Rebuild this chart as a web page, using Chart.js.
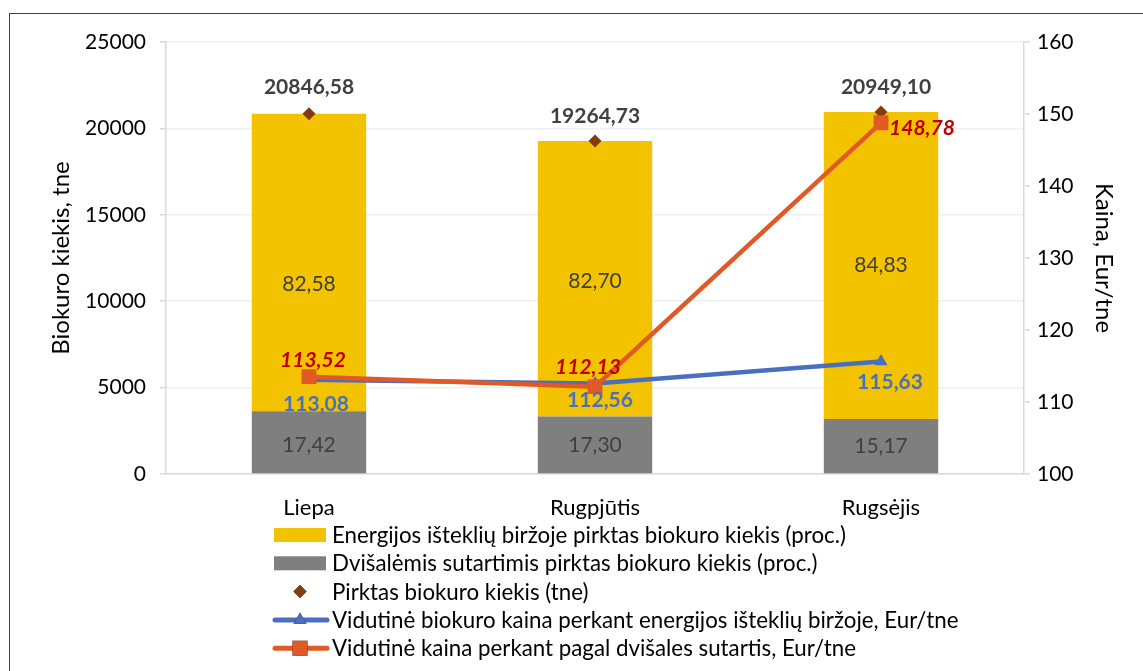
<!DOCTYPE html>
<html>
<head>
<meta charset="utf-8">
<script src="https://cdn.jsdelivr.net/npm/chart.js@4.4.1/dist/chart.umd.min.js"></script>
<style>
  html, body { margin: 0; padding: 0; background: #fff; overflow: hidden; }
  #wrap { position: relative; width: 1143px; height: 671px; }
  #frame { position: absolute; left: 9px; top: 13px; width: 1300px; height: 800px; border: 1.5px solid #404040; }
  canvas { position: absolute; left: 0; top: 0; }
</style>
</head>
<body>
<div id="wrap">
  <div id="frame"></div>
  <canvas id="grafikas" width="1143" height="671"></canvas>
</div>
<script>
// Duomenys
const menesiai = ['Liepa', 'Rugpjūtis', 'Rugsėjis'];
const pirktaViso = [20846.58, 19264.73, 20949.10];      // tne
const birzojeProc = [82.58, 82.70, 84.83];              // proc.
const dvisalemisProc = [17.42, 17.30, 15.17];           // proc.
const kainaBirzoje = [113.08, 112.56, 115.63];          // Eur/tne
const kainaDvisale = [113.52, 112.13, 148.78];          // Eur/tne

const SRIFTAS = 'Lato, "Liberation Sans", sans-serif';
const fmt = v => v.toFixed(2).replace('.', ',');

// stulpeliu aukstis = bendras kiekis * dalis
const birzojeTne = pirktaViso.map((v, i) => v * birzojeProc[i] / 100);
const dvisalemisTne = pirktaViso.map((v, i) => v * dvisalemisProc[i] / 100);

// Reiksmiu uzrasai
const zymes = {
    id: 'zymes',
    afterDatasetsDraw(chart) {
        const ctx = chart.ctx;
        ctx.save();
        ctx.textAlign = 'center';
        ctx.textBaseline = 'middle';
        chart.data.datasets.forEach((ds, i) => {
            const z = ds.zyme;
            if (!z) return;
            const meta = chart.getDatasetMeta(i);
            meta.data.forEach((el, j) => {
                let x = el.x + (z.dx ? z.dx[j] : 0);
                let y = (meta.type === 'bar' ? (el.y + el.base) / 2 : el.y) + (z.dy ? z.dy[j] : 0);
                ctx.font = z.font;
                ctx.fillStyle = z.spalva;
                ctx.fillText(fmt(z.tekstai[j]), x, y);
            });
        });
        ctx.restore();
    }
};

// Legenda po grafiku, viena eilute kiekvienam elementui
const legenda = {
    id: 'legenda',
    afterDraw(chart) {
        const ctx = chart.ctx;
        const tvarka = [1, 0, 2, 3, 4];
        const x0 = 274, y0 = 535, zingsnis = 28.3;
        ctx.save();
        ctx.font = '22.3px ' + SRIFTAS;
        ctx.textBaseline = 'middle';
        ctx.textAlign = 'left';
        tvarka.forEach((idx, r) => {
            const ds = chart.data.datasets[idx];
            const y = y0 + r * zingsnis;
            if (ds.type === 'bar') {
                ctx.fillStyle = ds.backgroundColor;
                ctx.fillRect(x0, y - 7, 52, 14);
            } else {
                if (ds.showLine !== false) {
                    ctx.strokeStyle = ds.borderColor;
                    ctx.lineWidth = 5;
                    ctx.lineCap = 'round';
                    ctx.beginPath();
                    ctx.moveTo(x0 + 1, y);
                    ctx.lineTo(x0 + 53, y);
                    ctx.stroke();
                }
                Chart.helpers.drawPoint(ctx, {
                    pointStyle: ds.pointStyle,
                    radius: ds.pointRadius,
                    borderWidth: 0,
                    rotation: 0
                }, x0 + 26, y);
                ctx.fillStyle = ds.pointBackgroundColor;
                ctx.fill();
            }
            ctx.fillStyle = '#000';
            ctx.fillText(ds.label, x0 + 58, y + 1);
        });
        ctx.restore();
    }
};

new Chart(document.getElementById('grafikas'), {
    data: {
        labels: menesiai,
        datasets: [
            {
                type: 'bar',
                label: 'Dvišalėmis sutartimis pirktas biokuro kiekis (proc.)',
                data: dvisalemisTne,
                backgroundColor: '#7F7F7F',
                yAxisID: 'y',
                stack: 'kiekis',
                order: 3,
                zyme: { tekstai: dvisalemisProc, spalva: '#404040', font: '21px ' + SRIFTAS, dy: [3, 0, 0] }
            },
            {
                type: 'bar',
                label: 'Energijos išteklių biržoje pirktas biokuro kiekis (proc.)',
                data: birzojeTne,
                backgroundColor: '#F4C300',
                yAxisID: 'y',
                stack: 'kiekis',
                order: 3,
                zyme: { tekstai: birzojeProc, spalva: '#404040', font: '21px ' + SRIFTAS, dy: [22, 2, 0] }
            },
            {
                type: 'line',
                label: 'Pirktas biokuro kiekis (tne)',
                data: pirktaViso,
                showLine: false,
                pointStyle: 'rectRot',
                pointRadius: 6.5,
                pointBackgroundColor: '#843C0C',
                pointBorderWidth: 0,
                borderColor: '#843C0C',
                yAxisID: 'y',
                stack: 'taskai',
                order: 2,
                zyme: { tekstai: pirktaViso, spalva: '#404040', font: 'bold 21px ' + SRIFTAS, dx: [0, 0, 5], dy: [-27, -25, -25] }
            },
            {
                type: 'line',
                label: 'Vidutinė biokuro kaina perkant energijos išteklių biržoje, Eur/tne',
                data: kainaBirzoje,
                borderColor: '#4A6FBF',
                borderWidth: 4.5,
                pointStyle: 'triangle',
                pointRadius: 7.5,
                pointBackgroundColor: '#4A6FBF',
                pointBorderWidth: 0,
                yAxisID: 'y1',
                order: 1,
                zyme: { tekstai: kainaBirzoje, spalva: '#4A6FBF', font: 'bold 21px ' + SRIFTAS, dx: [7, 5, 9], dy: [24, 17, 21] }
            },
            {
                type: 'line',
                label: 'Vidutinė kaina perkant pagal dvišales sutartis, Eur/tne',
                data: kainaDvisale,
                borderColor: '#E15A26',
                borderWidth: 4.5,
                pointStyle: 'rect',
                pointRadius: 10.5,
                pointBackgroundColor: '#E15A26',
                pointBorderWidth: 0,
                yAxisID: 'y1',
                order: 0,
                zyme: { tekstai: kainaDvisale, spalva: '#C00000', font: 'italic bold 21px ' + SRIFTAS, dx: [4, -7, 41], dy: [-16, -19, 5] }
            }
        ]
    },
    options: {
        responsive: false,
        animation: false,
        layout: { padding: { left: 40, right: 18, top: 42, bottom: 137 } },
        datasets: { bar: { barPercentage: 0.4, categoryPercentage: 1 } },
        plugins: {
            legend: { display: false },
            tooltip: { enabled: false }
        },
        scales: {
            x: {
                stacked: true,
                grid: { display: false, drawTicks: false },
                border: { display: true, color: '#D9D9D9', width: 1.5 },
                ticks: { color: '#000', font: { family: SRIFTAS, size: 22 }, padding: 21 },
                afterFit(s) { s.height = 60; }
            },
            y: {
                position: 'left',
                stacked: true,
                min: 0,
                max: 25000,
                ticks: { stepSize: 5000, color: '#000', font: { family: SRIFTAS, size: 21 }, padding: 14, callback: v => String(v) },
                grid: { color: '#EFEFEF', lineWidth: 1.5, tickLength: 6, tickColor: '#D9D9D9' },
                border: { color: '#D9D9D9', width: 1.5 },
                title: { display: true, text: 'Biokuro kiekis, tne', color: '#000', font: { family: SRIFTAS, size: 24 }, padding: { top: 7, bottom: 0 } },
                afterFit(s) { s.width = 126; }
            },
            y1: {
                position: 'right',
                min: 100,
                max: 160,
                ticks: { stepSize: 10, color: '#000', font: { family: SRIFTAS, size: 21 }, padding: 7, callback: v => String(v) },
                grid: { drawOnChartArea: false, tickLength: 6, tickColor: '#D9D9D9', lineWidth: 1.5 },
                border: { color: '#D9D9D9', width: 1.5 },
                title: { display: true, text: 'Kaina, Eur/tne', color: '#000', font: { family: SRIFTAS, size: 24 }, padding: { top: 7, bottom: 0 } },
                afterFit(s) { s.width = 101; }
            }
        }
    },
    plugins: [zymes, legenda]
});
</script>
</body>
</html>
